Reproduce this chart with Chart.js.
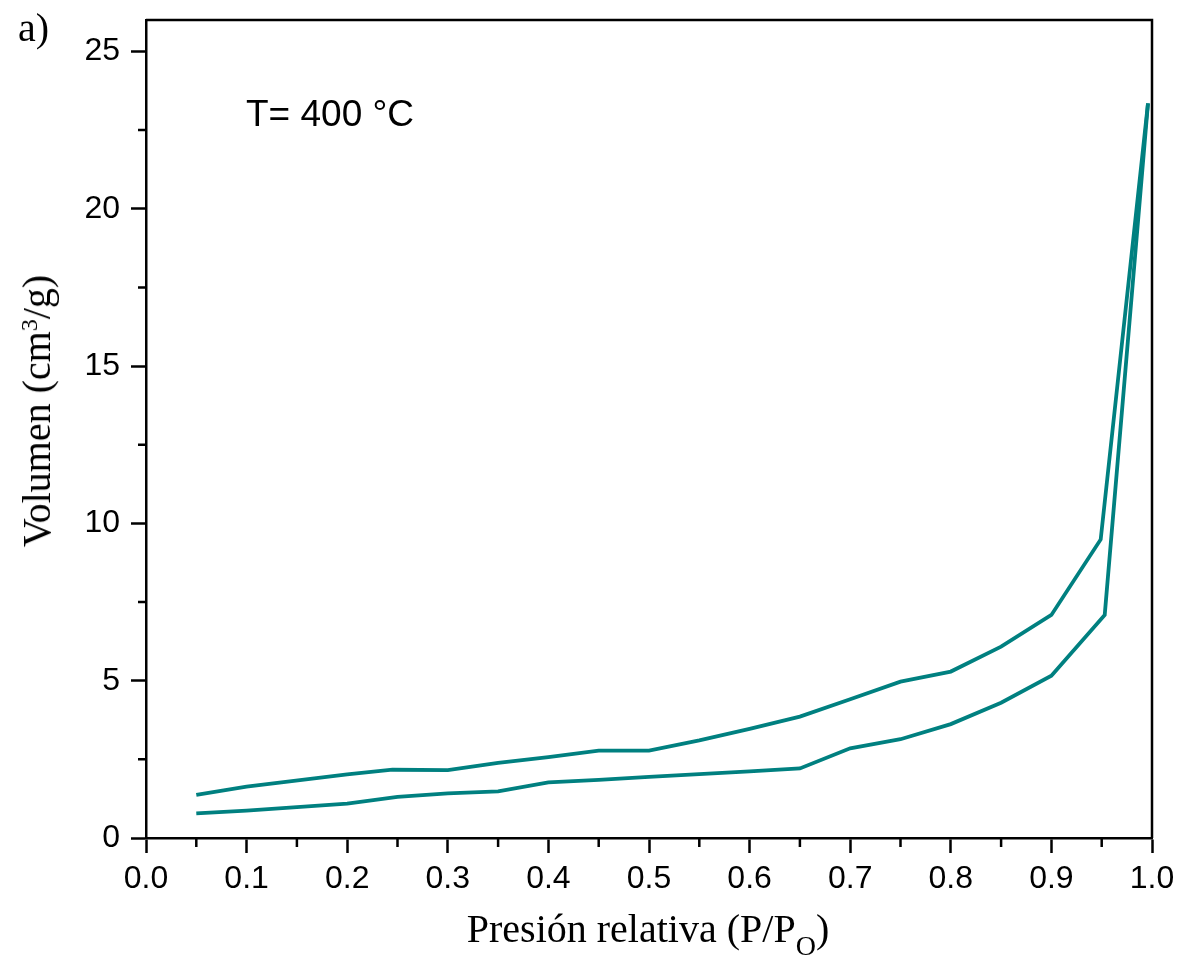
<!DOCTYPE html>
<html>
<head>
<meta charset="utf-8">
<script src="https://cdn.jsdelivr.net/npm/chart.js@4.4.1/dist/chart.umd.min.js"></script>
<style>
  html, body { margin: 0; padding: 0; background: #fff; }
  #wrap { position: relative; width: 1181px; height: 959px; background: #fff; }
  canvas { position: absolute; left: 0; top: 0; }
  .lbl { position: absolute; white-space: nowrap; line-height: 1; color: #000; }
  .serif { font-family: "Liberation Serif", "Times New Roman", serif; font-size: 40px; }
  .sans { font-family: "Liberation Sans", Arial, sans-serif; }
  .sup { position: relative; top: -0.55em; font-size: 0.6em; }
  .sub { position: relative; top: 0.45em; font-size: 0.7em; }
</style>
</head>
<body>
<div id="wrap">
  <canvas id="c" width="1181" height="959"></canvas>
  <div class="lbl serif" style="left:18px; top:8px;">a)</div>
  <div class="lbl sans" style="left:246px; top:95px; font-size:37px;">T= 400 °C</div>
  <div class="lbl serif" style="left:648px; top:929px; transform:translate(-50%,-50%);">Presión relativa (P/P<span class="sub">O</span>)</div>
  <div class="lbl serif" style="left:37px; top:411px; transform:translate(-50%,-50%) rotate(-90deg);">Volumen (cm<span class="sup">3</span>/g)</div>
</div>
<script>
// Adsorption branch (lower curve)
const adsP = [0.05, 0.10, 0.20, 0.25, 0.30, 0.35, 0.40, 0.45, 0.50, 0.55, 0.60, 0.65, 0.70, 0.75, 0.80, 0.85, 0.90, 0.953, 0.996];
const adsV = [0.78, 0.87, 1.09, 1.31, 1.42, 1.48, 1.77, 1.85, 1.94, 2.03, 2.12, 2.21, 2.85, 3.14, 3.62, 4.30, 5.16, 7.09, 23.35];

// Desorption branch (upper curve), from high to low pressure
const desP = [0.996, 0.949, 0.90, 0.85, 0.80, 0.75, 0.70, 0.65, 0.60, 0.55, 0.50, 0.45, 0.40, 0.35, 0.30, 0.245, 0.20, 0.10, 0.05];
const desV = [23.35, 9.49, 7.09, 6.08, 5.29, 4.97, 4.41, 3.86, 3.47, 3.10, 2.78, 2.78, 2.57, 2.39, 2.16, 2.17, 2.02, 1.63, 1.37];

// Axis ticks
const xMajor = [0.0, 0.1, 0.2, 0.3, 0.4, 0.5, 0.6, 0.7, 0.8, 0.9, 1.0];
const xMinor = [0.05, 0.15, 0.25, 0.35, 0.45, 0.55, 0.65, 0.75, 0.85, 0.95];
const yMajor = [0, 5, 10, 15, 20, 25];
const yMinor = [2.5, 7.5, 12.5, 17.5, 22.5];

const lineColor = '#008080';
const toXY = (xs, ys) => xs.map((x, i) => ({ x: x, y: ys[i] }));

// Minor ticks and the top/right frame
const framePlugin = {
  id: 'frameAndMinor',
  afterDraw(chart) {
    const ctx = chart.ctx;
    const a = chart.chartArea;
    const xs = chart.scales.x, ys = chart.scales.y;
    ctx.save();
    ctx.strokeStyle = '#000';
    ctx.lineWidth = 2.5;
    ctx.lineCap = 'butt';
    ctx.beginPath();
    xMinor.forEach(v => {
      const px = xs.getPixelForValue(v);
      ctx.moveTo(px, a.bottom);
      ctx.lineTo(px, a.bottom + 9);
    });
    yMinor.forEach(v => {
      const py = ys.getPixelForValue(v);
      ctx.moveTo(a.left, py);
      ctx.lineTo(a.left - 8, py);
    });
    ctx.stroke();
    ctx.beginPath();
    ctx.moveTo(a.left, a.top);
    ctx.lineTo(a.right, a.top);
    ctx.lineTo(a.right, a.bottom);
    ctx.stroke();
    ctx.restore();
  }
};

new Chart(document.getElementById('c'), {
  type: 'scatter',
  data: {
    datasets: [
      { label: 'Adsorción', data: toXY(adsP, adsV), showLine: true, borderColor: lineColor, borderWidth: 3.8, pointRadius: 0, tension: 0, fill: false },
      { label: 'Desorción', data: toXY(desP, desV), showLine: true, borderColor: lineColor, borderWidth: 3.8, pointRadius: 0, tension: 0, fill: false }
    ]
  },
  options: {
    responsive: false,
    animation: false,
    devicePixelRatio: 1,
    layout: { padding: { left: 0, right: 29, top: 20, bottom: 0 } },
    plugins: { legend: { display: false }, tooltip: { enabled: false } },
    scales: {
      x: {
        type: 'linear', min: 0, max: 1,
        afterBuildTicks: s => { s.ticks = xMajor.map(v => ({ value: v })); },
        afterFit: s => { s.height = 121; s.paddingLeft = 0; s.paddingRight = 0; },
        grid: { drawOnChartArea: false, drawTicks: true, tickLength: 15, tickWidth: 2.5, tickColor: '#000' },
        border: { display: true, color: '#000', width: 2.5 },
        ticks: {
          padding: 7, color: '#000', maxRotation: 0, autoSkip: false,
          font: { family: '"Liberation Sans", Arial, sans-serif', size: 32 },
          callback: v => Number(v).toFixed(1)
        }
      },
      y: {
        type: 'linear', min: 0, max: 26,
        afterBuildTicks: s => { s.ticks = yMajor.map(v => ({ value: v })); },
        afterFit: s => { s.width = 146; s.paddingTop = 0; s.paddingBottom = 0; },
        grid: { drawOnChartArea: false, drawTicks: true, tickLength: 15, tickWidth: 2.5, tickColor: '#000' },
        border: { display: true, color: '#000', width: 2.5 },
        ticks: {
          padding: 11, color: '#000', autoSkip: false,
          font: { family: '"Liberation Sans", Arial, sans-serif', size: 32 },
          callback: v => String(v)
        }
      }
    }
  },
  plugins: [framePlugin]
});
</script>
</body>
</html>
